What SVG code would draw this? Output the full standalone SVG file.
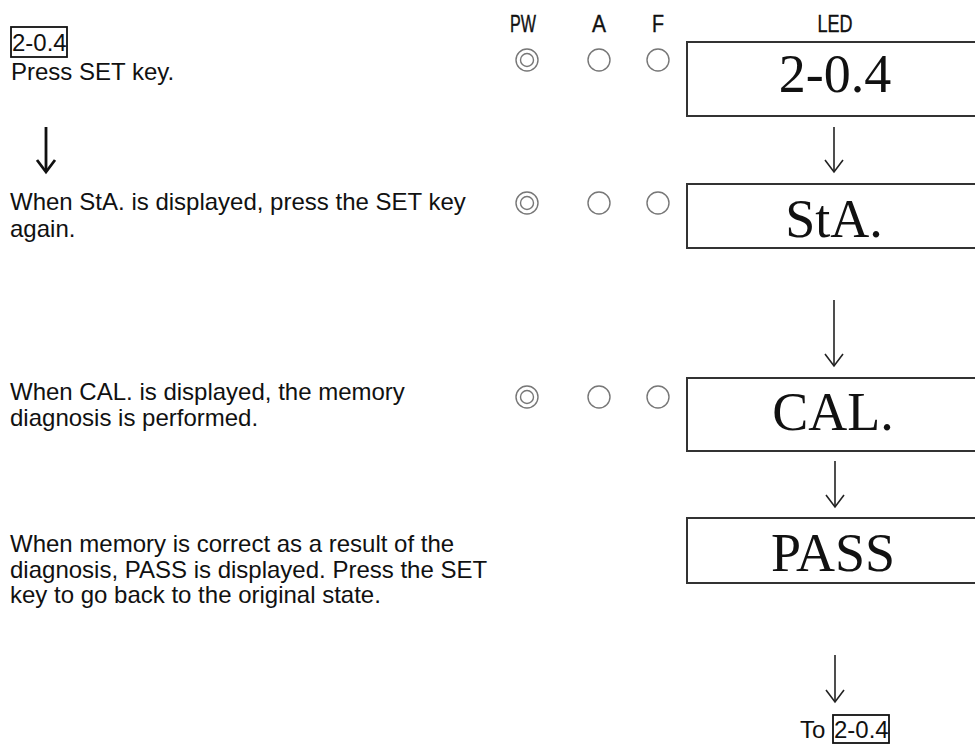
<svg xmlns="http://www.w3.org/2000/svg" width="975" height="744" viewBox="0 0 975 744">
<style>
.t{font-family:"Liberation Sans",Arial,sans-serif;font-size:24px;fill:#111}
.h{font-family:"Liberation Sans",Arial,sans-serif;font-size:23px;fill:#111;text-anchor:middle;stroke:#111;stroke-width:0.4}
.led{font-family:"Liberation Serif","Times New Roman",serif;font-size:54px;fill:#111;text-anchor:middle}
.box{fill:#fff;stroke:#333;stroke-width:2}
.lamp{fill:none;stroke:#777;stroke-width:1.4}
.conn{fill:none;stroke:#222;stroke-width:1.6}
.tag{fill:none;stroke:#111;stroke-width:1.8}
</style>
<rect width="975" height="744" fill="#fff"/>
<g id="header">
<text class="h" x="523" y="32" textLength="26" lengthAdjust="spacingAndGlyphs">PW</text>
<text class="h" x="599" y="32" textLength="14" lengthAdjust="spacingAndGlyphs">A</text>
<text class="h" x="658" y="32" textLength="12" lengthAdjust="spacingAndGlyphs">F</text>
<text class="h" x="835" y="32" textLength="35" lengthAdjust="spacingAndGlyphs">LED</text>
</g>
<g id="step1-text">
<rect class="tag" x="11" y="27" width="56" height="30"/>
<text class="t" x="12" y="51">2-0.4</text>
<text class="t" x="11" y="80">Press SET key.</text>
</g>
<g id="left-arrow">
<line x1="46" y1="127" x2="46" y2="171" stroke="#111" stroke-width="2.8"/>
<path d="M37,160 L46,172 L55,160" fill="none" stroke="#111" stroke-width="2.8"/>
</g>
<g id="step2-text">
<text class="t" x="10" y="210">When StA. is displayed, press the SET key</text>
<text class="t" x="10" y="237">again.</text>
</g>
<g id="step3-text">
<text class="t" x="10" y="400">When CAL. is displayed, the memory</text>
<text class="t" x="10" y="426">diagnosis is performed.</text>
</g>
<g id="step4-text">
<text class="t" x="10" y="552">When memory is correct as a result of the</text>
<text class="t" x="10" y="578">diagnosis, PASS is displayed. Press the SET</text>
<text class="t" x="10" y="603">key to go back to the original state.</text>
</g>
<g id="lamps1">
<circle class="lamp" cx="527" cy="60" r="11"/><circle class="lamp" cx="527" cy="60" r="6.5"/>
<circle class="lamp" cx="599" cy="60" r="11"/>
<circle class="lamp" cx="658" cy="60" r="11"/>
</g>
<g id="lamps2">
<circle class="lamp" cx="527" cy="203" r="11"/><circle class="lamp" cx="527" cy="203" r="6.5"/>
<circle class="lamp" cx="599" cy="203" r="11"/>
<circle class="lamp" cx="658" cy="203" r="11"/>
</g>
<g id="lamps3">
<circle class="lamp" cx="527" cy="397" r="11"/><circle class="lamp" cx="527" cy="397" r="6.5"/>
<circle class="lamp" cx="599" cy="397" r="11"/>
<circle class="lamp" cx="658" cy="397" r="11"/>
</g>
<g id="led-2-0-4">
<rect class="box" x="687" y="42" width="300" height="74"/>
<text class="led" x="835" y="92">2-0.4</text>
</g>
<g id="led-sta">
<rect class="box" x="687" y="184" width="300" height="64"/>
<text class="led" x="834" y="237">StA.</text>
</g>
<g id="led-cal">
<rect class="box" x="687" y="378" width="300" height="73"/>
<text class="led" x="833" y="430">CAL.</text>
</g>
<g id="led-pass">
<rect class="box" x="687" y="518" width="300" height="65"/>
<text class="led" x="833" y="571">PASS</text>
</g>
<g id="connectors">
<line class="conn" x1="834" y1="127" x2="834" y2="172"/>
<path class="conn" d="M825,160 L834,172 L843,160"/>
<line class="conn" x1="834" y1="300" x2="834" y2="366"/>
<path class="conn" d="M825,354 L834,366 L843,354"/>
<line class="conn" x1="835" y1="461" x2="835" y2="507"/>
<path class="conn" d="M826,495 L835,507 L844,495"/>
<line class="conn" x1="835" y1="655" x2="835" y2="702"/>
<path class="conn" d="M826,690 L835,702 L844,690"/>
</g>
<g id="to-label">
<text class="t" x="800" y="738">To</text>
<rect class="tag" x="833" y="715" width="56" height="28"/>
<text class="t" x="834" y="738">2-0.4</text>
</g>
</svg>
